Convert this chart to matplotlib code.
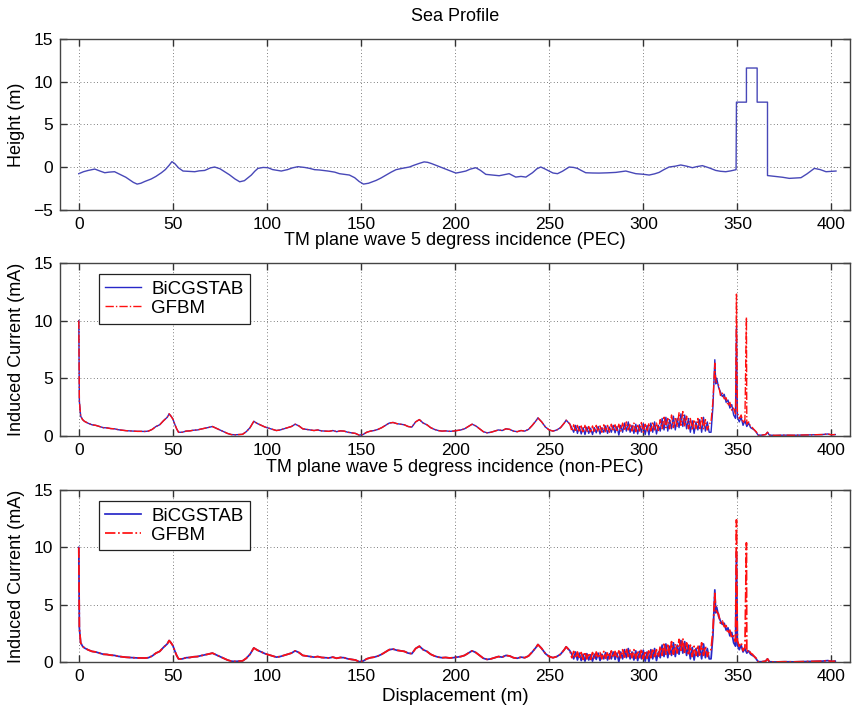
import numpy as np
import matplotlib
matplotlib.use("Agg")
import matplotlib.pyplot as plt

plt.rcParams['font.family'] = ['Liberation Sans', 'DejaVu Sans']

# sea surface profile (m)
sea_x = [0, 2.5, 5, 8.5, 11, 13.8, 16, 19, 22.6, 25, 27, 29, 31, 33, 35, 38.5, 41, 43.9,
         46, 48, 49.5, 51, 53, 55.4, 58, 61.6, 64, 66.9, 70, 72.2, 75, 77.5, 80, 83, 85.5,
         88, 91.7, 93.5, 95.2, 98, 100.5, 103, 107.6, 111, 113.5, 116.5, 120, 122.5, 125.3,
         128, 132.4, 136, 138.5, 141, 143.8, 146.6, 149, 151.3, 154, 158, 160.5, 163.3, 166,
         168.6, 172, 175.7, 178, 181, 183.5, 185.4, 187.5, 189.8, 192, 195.1, 198, 200.4,
         203, 205.7, 208, 211, 213.5, 216.3, 220, 223.4, 226, 228.7, 232.2, 235, 237.6,
         241.1, 243.5, 245.5, 247.5, 249.9, 252, 254.4, 257, 260.6, 263, 265, 267, 269.4,
         273, 276.5, 281, 285.4, 288, 290.7, 293, 296, 300, 303.1, 306, 308.4, 311, 313.7,
         317, 319.9, 323, 326.1, 328.5, 331.4, 335, 338.5, 341, 343.8, 346.5, 349.3,
         349.5, 354.8, 354.8, 360.5, 360.5, 366, 366, 368, 370.5, 374, 377.6, 380, 383.8,
         387, 390.9, 394, 397.1, 400, 402.4]
sea_h = [-0.78, -0.55, -0.4, -0.24, -0.45, -0.67, -0.6, -0.55, -0.94, -1.2, -1.5, -1.8,
         -2.0, -1.9, -1.7, -1.4, -1.1, -0.67, -0.3, 0.2, 0.63, 0.4, -0.1, -0.47, -0.5,
         -0.55, -0.45, -0.4, -0.1, 0.0, -0.2, -0.55, -0.9, -1.4, -1.73, -1.6, -0.94, -0.5,
         -0.16, -0.05, -0.08, -0.3, -0.47, -0.3, -0.1, 0.04, -0.05, -0.15, -0.31, -0.35,
         -0.47, -0.6, -0.78, -0.85, -0.94, -1.25, -1.7, -2.0, -1.9, -1.57, -1.3, -0.94,
         -0.6, -0.31, -0.15, 0.0, 0.2, 0.43, 0.6, 0.55, 0.4, 0.2, 0.0, -0.27, -0.5, -0.71,
         -0.6, -0.47, -0.25, -0.08, -0.4, -0.86, -0.95, -1.02, -0.9, -0.78, -1.18, -1.1,
         -1.18, -0.67, -0.2, 0.0, -0.2, -0.47, -0.7, -0.78, -0.5, 0.0, -0.05, -0.16, -0.4,
         -0.67, -0.7, -0.71, -0.68, -0.63, -0.55, -0.47, -0.6, -0.78, -0.85, -0.94, -0.8,
         -0.63, -0.3, 0.0, 0.1, 0.24, 0.1, -0.08, 0.05, 0.16, -0.1, -0.4, -0.5, -0.55,
         -0.45, -0.31, 7.6, 7.6, 11.6, 11.6, 7.6, 7.6, -1.0, -1.05, -1.1, -1.2, -1.33,
         -1.3, -1.25, -0.8, -0.16, -0.3, -0.55, -0.5, -0.47]

# induced current (mA), part where both solvers agree (0 - 261 m)
smooth_x = [0, 0.3, 1, 2, 3, 5, 7, 9, 11, 13, 15, 17, 19, 21, 23, 25, 27, 29, 31, 33, 35,
            37, 39, 41, 43, 45, 47, 48, 49, 50, 51, 52, 53, 55, 57, 59, 61, 63, 65, 67, 69,
            71, 73, 75, 77, 79, 81, 83, 85, 87, 89, 91, 93, 95, 97, 99, 101, 103, 105, 107,
            109, 111, 113, 115, 117, 119, 121, 123, 125, 127, 129, 131, 133, 135, 137, 139,
            141, 143, 145, 147, 149, 151, 153, 155, 157, 159, 161, 163, 165, 167, 169, 171,
            173, 175, 177, 179, 181, 183, 185, 187, 189, 191, 193, 195, 197, 199, 201, 203,
            205, 207, 209, 211, 213, 215, 217, 219, 221, 223, 225, 227, 229, 231, 233, 235,
            237, 239, 241, 243, 244, 246, 248, 250, 252, 254, 256, 258, 259, 261]
smooth_i = [10.0, 3.0, 1.7, 1.4, 1.25, 1.08, 0.95, 0.9, 0.8, 0.7, 0.68, 0.62, 0.6, 0.52,
            0.48, 0.44, 0.42, 0.4, 0.38, 0.38, 0.37, 0.4, 0.55, 0.8, 0.95, 1.3, 1.6, 1.9, 1.7,
            1.45, 1.0, 0.6, 0.3, 0.3, 0.4, 0.42, 0.48, 0.5, 0.58, 0.65, 0.72, 0.8, 0.65, 0.5,
            0.35, 0.2, 0.1, 0.08, 0.1, 0.12, 0.35, 0.7, 1.25, 1.05, 0.9, 0.75, 0.65, 0.55,
            0.45, 0.5, 0.6, 0.7, 0.8, 1.0, 0.85, 0.6, 0.55, 0.5, 0.45, 0.5, 0.42, 0.4, 0.38,
            0.45, 0.35, 0.42, 0.4, 0.3, 0.25, 0.2, 0.05, 0.1, 0.3, 0.4, 0.45, 0.55, 0.7, 0.9,
            1.1, 1.15, 1.05, 1.0, 0.95, 0.8, 0.75, 1.2, 1.4, 1.1, 0.95, 0.7, 0.55, 0.45, 0.4,
            0.42, 0.38, 0.4, 0.45, 0.5, 0.6, 0.8, 1.0, 0.85, 0.6, 0.35, 0.25, 0.3, 0.4, 0.5,
            0.45, 0.6, 0.55, 0.4, 0.35, 0.45, 0.4, 0.55, 0.9, 1.3, 1.55, 1.2, 0.75, 0.5, 0.4,
            0.5, 0.7, 1.1, 1.35, 1.0]

# oscillating region 262 - 335 m, one sample per metre
band_x = list(range(262, 336))
band_bicg = [0.7, 0.3, 0.9, 0.2, 0.8, 0.15, 0.7, 0.1, 0.75, 0.2, 0.65, 0.1, 0.7, 0.25, 0.8,
             0.15, 0.7, 0.3, 0.85, 0.2, 0.75, 0.3, 0.9, 0.25, 0.8, 0.05, 0.9, 0.3, 1.1, 0.4,
             1.2, 0.3, 0.9, 0.2, 1.0, 0.15, 0.95, 0.3, 1.05, 0.1, 0.9, 0.05, 1.1, 0.3, 1.2,
             0.15, 0.9, 0.4, 1.5, 0.5, 1.6, 0.4, 1.4, 0.6, 1.7, 0.5, 1.5, 0.7, 1.9, 0.8, 1.8,
             0.6, 1.5, 0.3, 1.3, 0.2, 1.2, 0.5, 1.4, 0.3, 1.6, 0.4, 1.2, 0.3]
band_gfbm = [0.4, 0.95, 0.35, 0.9, 0.3, 0.85, 0.25, 0.9, 0.3, 0.8, 0.25, 0.85, 0.3, 0.9,
             0.35, 0.85, 0.3, 0.95, 0.35, 0.9, 0.3, 1.0, 0.4, 0.95, 0.35, 1.0, 0.4, 1.1, 0.45,
             1.2, 0.5, 1.05, 0.4, 1.1, 0.35, 1.0, 0.4, 1.15, 0.3, 1.0, 0.35, 1.1, 0.4, 1.2,
             0.5, 1.1, 0.45, 1.4, 0.6, 1.7, 0.7, 1.5, 0.6, 1.8, 0.7, 1.6, 0.8, 2.0, 0.9, 2.1,
             0.8, 1.7, 0.6, 1.5, 0.5, 1.4, 0.6, 1.5, 0.5, 1.7, 0.6, 1.4, 0.5, 1.0]

# obstacle region and far tail
tail_x = [361, 363, 365, 366, 367, 370, 375, 380, 385, 390, 395, 398, 400, 402]
tail_i = [0.05, 0.05, 0.1, 0.3, 0.05, 0.03, 0.05, 0.04, 0.06, 0.08, 0.1, 0.15, 0.08, 0.1]

peak_x_bicg = [336, 337, 338, 338.5, 339, 340, 341, 342, 343, 344, 345, 346, 347, 348, 349,
               349.5, 350, 351, 352, 353, 354, 355, 356, 357, 358, 359, 360]
peak_x_gfbm = [336, 337, 338, 338.5, 339, 340, 341, 342, 343, 344, 345, 346, 347, 348, 349,
               349.5, 350, 351, 352, 353, 354, 354.8, 355, 356, 357, 358, 359, 360]

pec_bicg = [0.3, 2.5, 6.6, 4.5, 5.0, 4.2, 3.8, 3.4, 3.6, 2.9, 3.1, 2.4, 2.7, 1.8, 1.5,
            9.5, 1.6, 1.2, 1.6, 0.9, 1.3, 0.8, 1.1, 0.7, 0.6, 0.5, 0.3]
pec_gfbm = [1.2, 3.0, 6.3, 4.8, 4.6, 4.4, 3.5, 3.7, 3.2, 3.3, 2.6, 2.9, 2.2, 2.4, 1.9,
            12.3, 2.0, 1.5, 1.8, 1.1, 1.4, 10.3, 1.0, 1.2, 0.8, 0.7, 0.5, 0.35]
npec_bicg = [0.3, 2.3, 6.3, 4.3, 4.8, 4.0, 3.6, 3.3, 3.4, 2.8, 3.0, 2.3, 2.6, 1.7, 1.4,
             9.6, 1.5, 1.1, 1.5, 0.9, 1.2, 0.8, 1.0, 0.7, 0.6, 0.5, 0.3]
npec_gfbm = [1.1, 2.8, 6.0, 4.6, 4.4, 4.2, 3.4, 3.6, 3.1, 3.2, 2.5, 2.8, 2.1, 2.3, 1.8,
             12.4, 1.9, 1.4, 1.7, 1.0, 1.3, 10.4, 0.9, 1.1, 0.8, 0.7, 0.5, 0.35]


def build(peak_x, peak_vals, band_vals):
    x = smooth_x + band_x + peak_x + tail_x
    y = smooth_i + band_vals + peak_vals + tail_i
    return x, y


def style_axes(ax, ylim, yticks):
    ax.set_xlim(-10, 410)
    ax.set_ylim(*ylim)
    ax.set_xticks(range(0, 401, 50))
    ax.set_yticks(yticks)
    ax.grid(True, color='#555555', linestyle=(0, (1, 3)), linewidth=0.6)
    ax.tick_params(direction='in', top=True, right=True, length=5, width=1,
                   pad=5, labelsize=12.5, color='#333333')
    for s in ax.spines.values():
        s.set_color('#444444')
        s.set_linewidth(1.0)


fig = plt.figure(figsize=(8.52, 7.13), dpi=100)
ax1 = fig.add_axes([0.0704, 0.7059, 0.9276, 0.2394])
ax2 = fig.add_axes([0.0704, 0.3889, 0.9276, 0.2422])
ax3 = fig.add_axes([0.0704, 0.0711, 0.9276, 0.2417])

# sea profile
ax1.plot(sea_x, sea_h, color='#4848b8', linewidth=1.0)
style_axes(ax1, (-5, 15), [-5, 0, 5, 10, 15])
ax1.set_ylabel('Height (m)', fontsize=13, labelpad=6)
ax1.set_title('Sea Profile', fontsize=13, pad=13)

panels = [
    (ax2, pec_bicg, pec_gfbm, 'TM plane wave 5 degress incidence (PEC)', 1.0),
    (ax3, npec_bicg, npec_gfbm, 'TM plane wave 5 degress incidence (non-PEC)', 1.25),
]
for ax, bicg, gfbm, title, lw in panels:
    bx, by = build(peak_x_bicg, bicg, band_bicg)
    gx, gy = build(peak_x_gfbm, gfbm, band_gfbm)
    ax.plot(bx, by, color='#2828c8', linewidth=lw, label='BiCGSTAB')
    ax.plot(gx, gy, color='#ff1010', linewidth=lw, linestyle=(0, (6, 1.5, 1, 1.5)),
            label='GFBM')
    style_axes(ax, (0, 15), [0, 5, 10, 15])
    ax.set_ylabel('Induced Current (mA)', fontsize=13, labelpad=6)
    ax.set_title(title, fontsize=13, pad=13)
    leg = ax.legend(loc='upper left', bbox_to_anchor=(0.049, 0.935), borderaxespad=0,
                    fontsize=13.5, handlelength=1.9, handletextpad=0.55, fancybox=False,
                    framealpha=1, edgecolor='#222222', borderpad=0.35, labelspacing=0.1)
    leg.get_frame().set_linewidth(0.9)

ax3.set_xlabel('Displacement (m)', fontsize=13.5, labelpad=3)

fig.savefig('out.png', dpi=100)
